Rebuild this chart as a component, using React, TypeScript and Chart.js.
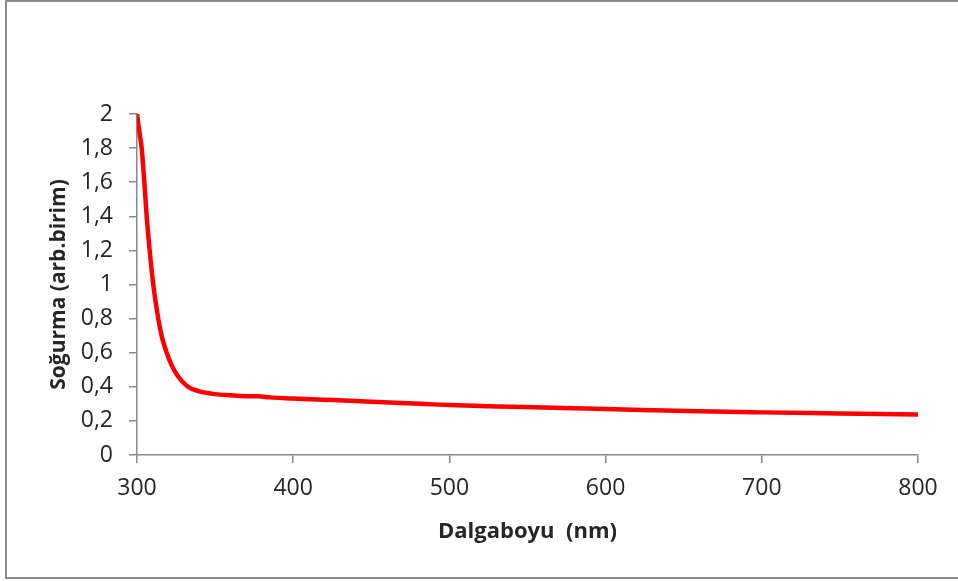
import React, { useEffect, useRef } from "react";
import { Chart, registerables } from "chart.js";

Chart.register(...registerables);

const wavelengths = [
  300, 301, 302, 303, 304.7, 306.2, 308.1, 310.4, 313.6, 316, 319, 322, 326, 332, 340,
  350, 360, 370, 378, 385, 400, 412, 425, 450, 485, 500, 540, 600, 660, 700,
  750, 800,
];
const absorbance = [
  2.0, 1.93, 1.865, 1.8, 1.6, 1.4, 1.2, 1.0, 0.8, 0.69, 0.6, 0.53, 0.465, 0.405, 0.373,
  0.357, 0.35, 0.345, 0.344, 0.338, 0.331, 0.327, 0.322, 0.313, 0.299, 0.293,
  0.283, 0.27, 0.256, 0.25, 0.244, 0.238,
];
const xTickLabels = ["300", "400", "500", "600", "700", "800"];
const yTickLabels = ["0", "0,2", "0,4", "0,6", "0,8", "1", "1,2", "1,4", "1,6", "1,8", "2"];
const xTitle = "Dalgaboyu  (nm)";
const yTitle = "Soğurma (arb.birim)";

export default function App() {
  const ref = useRef<HTMLCanvasElement | null>(null);
  useEffect(() => {
    if (!ref.current) return;
    const axisColor = "#8a8a8a";
    const textColor = "#262626";
    const chart = new Chart(ref.current, {
      type: "line",
      data: {
        datasets: [
          {
            data: wavelengths.map((x, i) => ({ x, y: absorbance[i] })),
            borderColor: "#ff0000",
            borderWidth: 4.5,
            borderCapStyle: "round",
            borderJoinStyle: "round",
            pointRadius: 0,
            cubicInterpolationMode: "monotone",
            fill: false,
          },
        ],
      },
      options: {
        responsive: false,
        animation: false,
        layout: { padding: { left: 46, top: 114, right: 40, bottom: 36 } },
        plugins: { legend: { display: false }, tooltip: { enabled: false } },
        scales: {
          x: {
            type: "linear",
            min: 300,
            max: 800,
            afterFit: (s: any) => {
              s.height = 90;
            },
            ticks: {
              stepSize: 100,
              padding: 12,
              color: textColor,
              font: { family: "'Open Sans'", size: 23 },
              maxRotation: 0,
              callback: (_v: any, i: number) => xTickLabels[i],
            },
            grid: {
              drawOnChartArea: false,
              drawTicks: true,
              tickLength: 8,
              color: axisColor,
              lineWidth: 1.5,
            },
            border: { display: true, color: axisColor, width: 1.5 },
            title: {
              display: true,
              text: xTitle,
              color: textColor,
              padding: 0,
              font: { family: "'Open Sans'", size: 22, weight: "bold" },
            },
          },
          y: {
            type: "linear",
            min: 0,
            max: 2,
            afterFit: (s: any) => {
              s.width = 91;
            },
            ticks: {
              stepSize: 0.2,
              padding: 16,
              color: textColor,
              font: { family: "'Open Sans'", size: 23 },
              callback: (_v: any, i: number) => yTickLabels[i],
            },
            grid: {
              drawOnChartArea: false,
              drawTicks: true,
              tickLength: 8,
              color: axisColor,
              lineWidth: 1.5,
            },
            border: { display: true, color: axisColor, width: 1.5 },
            title: {
              display: true,
              text: yTitle,
              color: textColor,
              padding: 0,
              font: { family: "'Open Sans'", size: 21, weight: "bold" },
            },
          },
        },
      },
    } as any);
    return () => chart.destroy();
  }, []);

  return (
    <div style={{ position: "fixed", left: 0, top: 0, width: 958, height: 581, overflow: "hidden", background: "#fff" }}>
      <div
        style={{
          position: "absolute",
          left: 5,
          top: 0,
          width: 970,
          height: 579,
          border: "2px solid #8c8c8c",
          boxSizing: "border-box",
        }}
      />
      <canvas ref={ref} width={958} height={581} style={{ position: "absolute", left: 0, top: 0 }} />
    </div>
  );
}
